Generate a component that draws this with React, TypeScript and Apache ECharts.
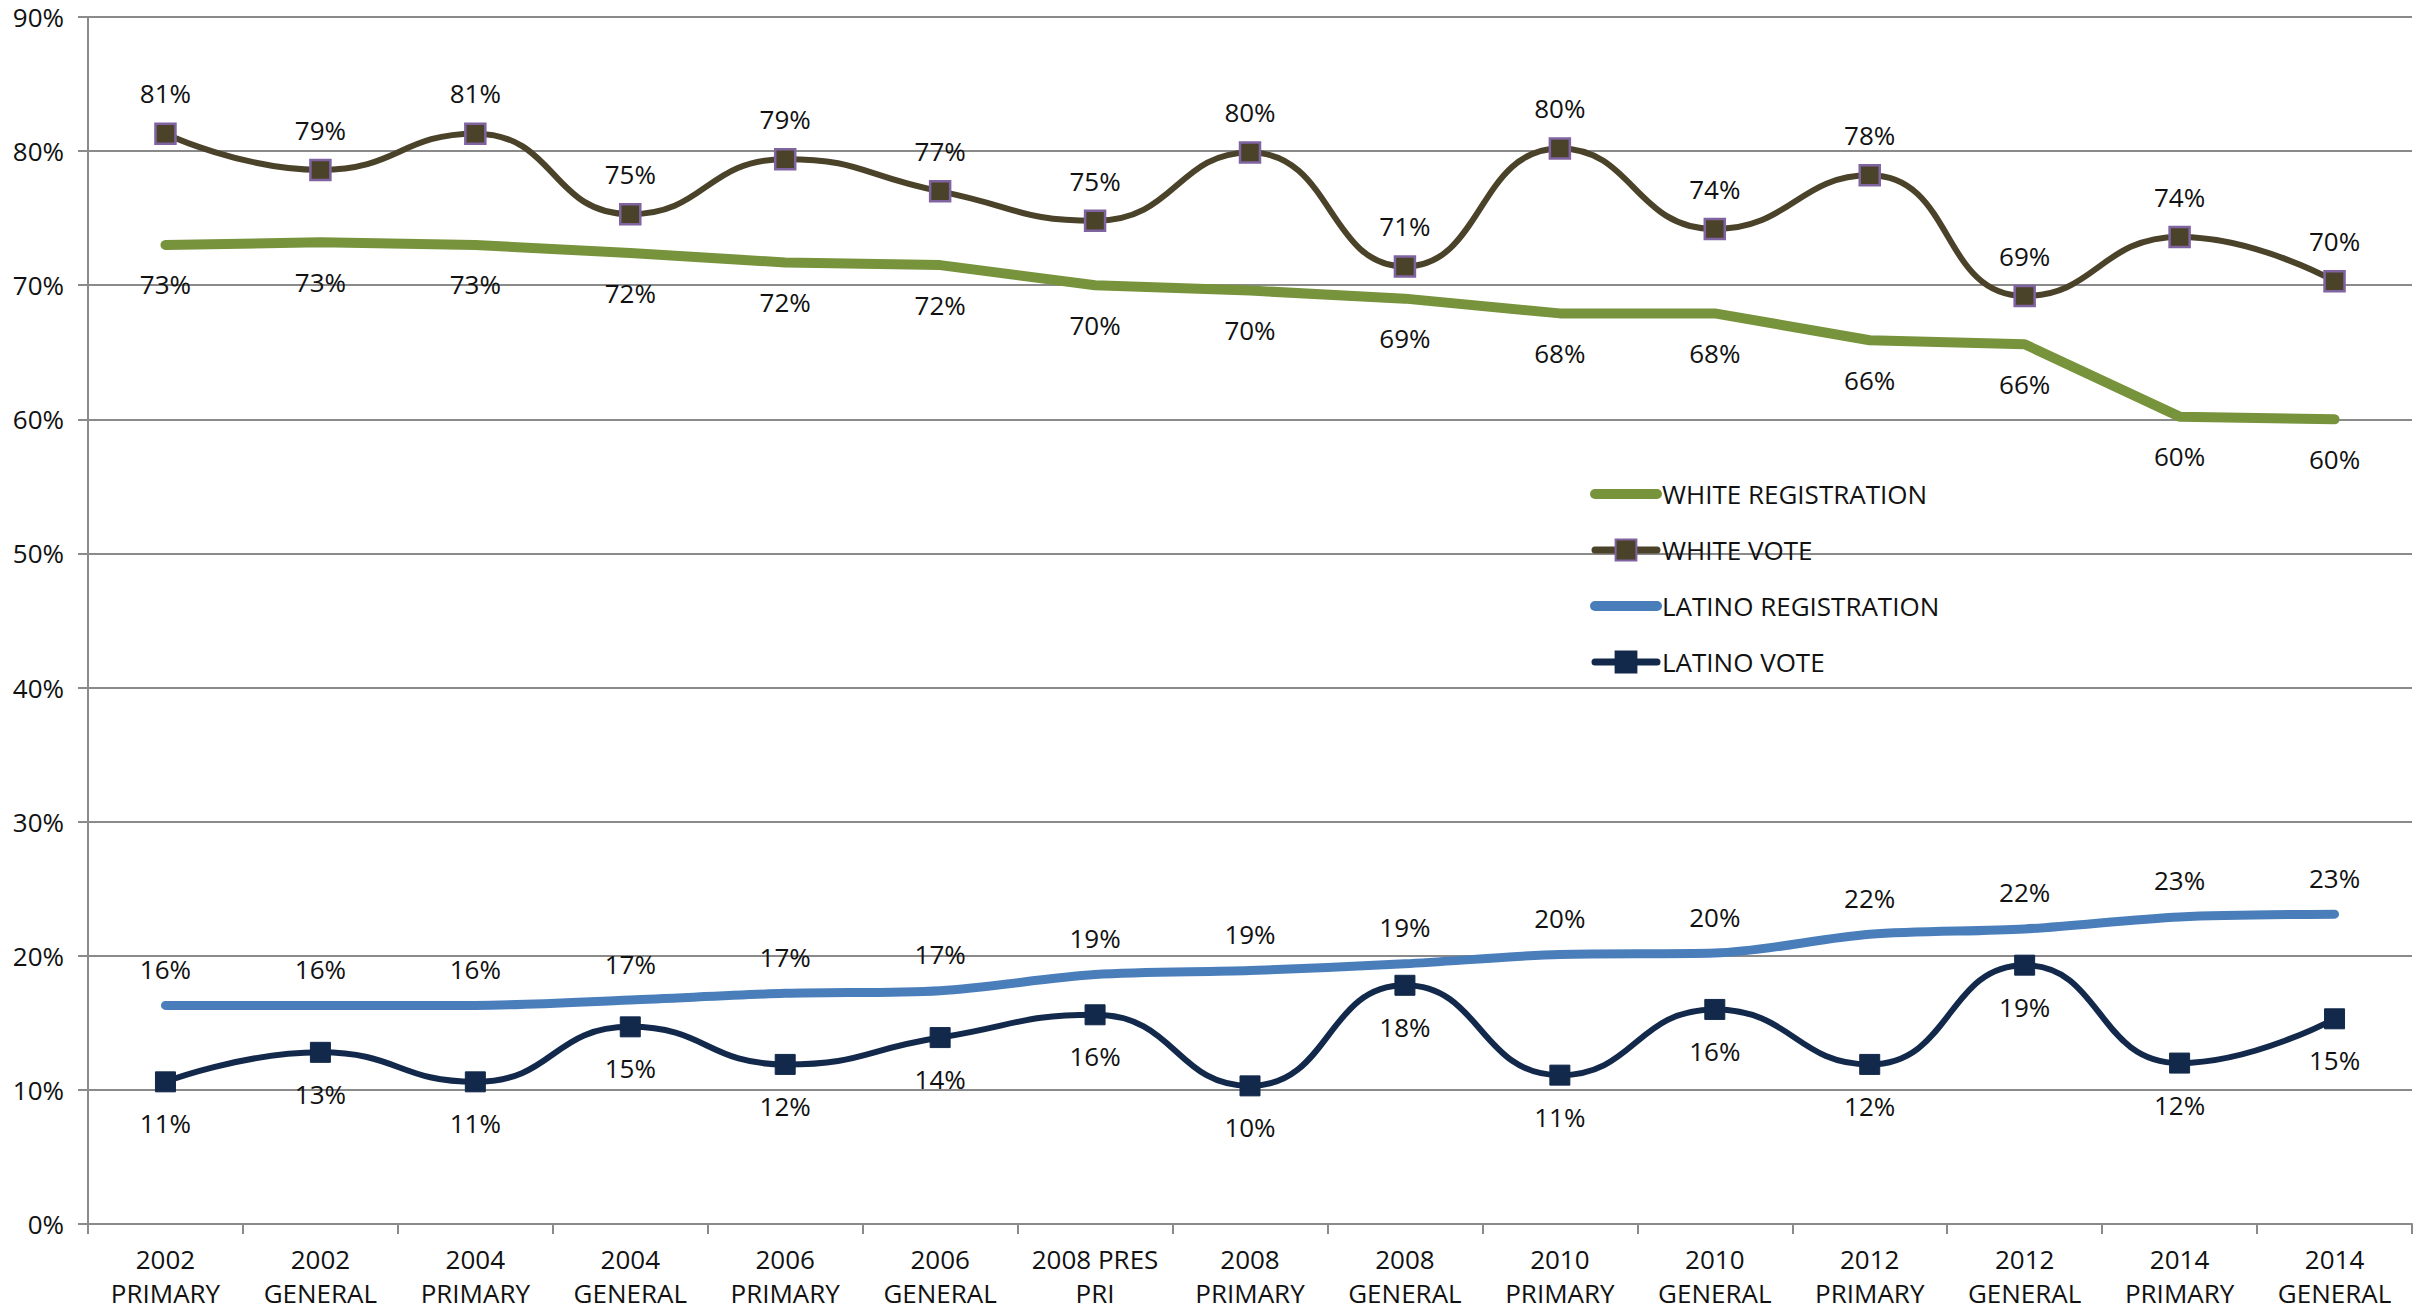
import React, { useEffect, useRef } from "react";
import * as echarts from "echarts";

const categories = [
  "2002\nPRIMARY", "2002\nGENERAL", "2004\nPRIMARY", "2004\nGENERAL", "2006\nPRIMARY",
  "2006\nGENERAL", "2008 PRES\nPRI", "2008\nPRIMARY", "2008\nGENERAL", "2010\nPRIMARY",
  "2010\nGENERAL", "2012\nPRIMARY", "2012\nGENERAL", "2014\nPRIMARY", "2014\nGENERAL",
];

const whiteRegistration = [73.0, 73.2, 73.0, 72.4, 71.7, 71.5, 70.0, 69.6, 69.0, 67.9, 67.9, 65.9, 65.6, 60.2, 60.0];
const whiteVote = [81.3, 78.6, 81.3, 75.3, 79.4, 77.0, 74.8, 79.9, 71.4, 80.2, 74.2, 78.2, 69.2, 73.6, 70.3];
const latinoRegistration = [16.3, 16.3, 16.3, 16.7, 17.2, 17.4, 18.6, 18.9, 19.4, 20.1, 20.2, 21.6, 22.0, 22.9, 23.1];
const latinoVote = [10.6, 12.8, 10.6, 14.7, 11.9, 13.9, 15.6, 10.3, 17.8, 11.1, 16.0, 11.9, 19.3, 12.0, 15.3];

const yTicks = { min: 0, max: 90, interval: 10 };

const FONT = "'Open Sans', 'Noto Sans', sans-serif";
const GRID = "#8a8a8a";
const TXT = "#111111";

export default function App() {
  const ref = useRef<HTMLDivElement>(null);
  useEffect(() => {
    if (!ref.current) return;
    const chart = echarts.init(ref.current, undefined, { renderer: "svg" });
    const fmt = (p: any) => Math.round(p.value) + "%";
    const labelBase = { show: true, fontFamily: FONT, fontSize: 26, color: TXT, formatter: fmt };
    chart.setOption({
      animation: false,
      backgroundColor: "#ffffff",
      textStyle: { fontFamily: FONT },
      grid: { left: 88, right: 20, top: 17, bottom: 87, containLabel: false },
      legend: {
        orient: "vertical",
        left: 1585,
        top: 476,
        itemWidth: 62,
        itemHeight: 26,
        itemGap: 30,
        textStyle: { fontFamily: FONT, fontSize: 26, color: TXT },
        data: [
          { name: "WHITE REGISTRATION", lineStyle: { width: 10, cap: "round" }, itemStyle: { opacity: 0 } },
          { name: "WHITE VOTE", lineStyle: { width: 7, cap: "round" } },
          { name: "LATINO REGISTRATION", lineStyle: { width: 10, cap: "round" }, itemStyle: { opacity: 0 } },
          { name: "LATINO VOTE", lineStyle: { width: 7, cap: "round" } },
        ],
      },
      xAxis: {
        type: "category",
        data: categories,
        boundaryGap: true,
        axisLine: { show: true, lineStyle: { color: GRID, width: 2 } },
        axisTick: { show: true, interval: 0, length: 10, lineStyle: { color: GRID, width: 2 } },
        axisLabel: { interval: 0, fontFamily: FONT, fontSize: 26, lineHeight: 34, margin: 18, color: TXT },
        splitLine: { show: false },
      },
      yAxis: {
        type: "value",
        min: yTicks.min,
        max: yTicks.max,
        interval: yTicks.interval,
        axisLine: { show: true, lineStyle: { color: GRID, width: 2 } },
        axisTick: { show: true, length: 10, lineStyle: { color: GRID, width: 2 } },
        axisLabel: { formatter: "{value}%", fontFamily: FONT, fontSize: 26, margin: 24, color: TXT },
        splitLine: { show: true, lineStyle: { color: GRID, width: 2 } },
      },
      series: [
        {
          name: "WHITE REGISTRATION",
          type: "line",
          data: whiteRegistration,
          smooth: false,
          symbol: "circle",
          symbolSize: 1,
          itemStyle: { color: "#77933C" },
          lineStyle: { color: "#77933C", width: 10, cap: "round", join: "round" },
          label: { ...labelBase, position: "bottom", distance: 26 },
          z: 2,
        },
        {
          name: "WHITE VOTE",
          type: "line",
          data: whiteVote,
          smooth: 0.5,
          symbol: "rect",
          symbolSize: 20,
          itemStyle: { color: "#4A4229", borderColor: "#8064A2", borderWidth: 2.5 },
          lineStyle: { color: "#4A4229", width: 6 },
          label: { ...labelBase, position: "top", distance: 16 },
          z: 3,
        },
        {
          name: "LATINO REGISTRATION",
          type: "line",
          data: latinoRegistration,
          smooth: 0.3,
          symbol: "circle",
          symbolSize: 1,
          itemStyle: { color: "#4A7EBB" },
          lineStyle: { color: "#4A7EBB", width: 9, cap: "round", join: "round" },
          label: { ...labelBase, position: "top", distance: 23 },
          z: 2,
        },
        {
          name: "LATINO VOTE",
          type: "line",
          data: latinoVote,
          smooth: 0.5,
          symbol: "rect",
          symbolSize: 20,
          itemStyle: { color: "#13294B", borderColor: "#13294B", borderWidth: 1 },
          lineStyle: { color: "#13294B", width: 6 },
          label: { ...labelBase, position: "bottom", distance: 18 },
          z: 3,
        },
      ],
    });
    return () => chart.dispose();
  }, []);
  return (
    <div
      ref={ref}
      style={{ position: "absolute", left: 0, top: 0, width: 2432, height: 1311, background: "#fff" }}
    />
  );
}
